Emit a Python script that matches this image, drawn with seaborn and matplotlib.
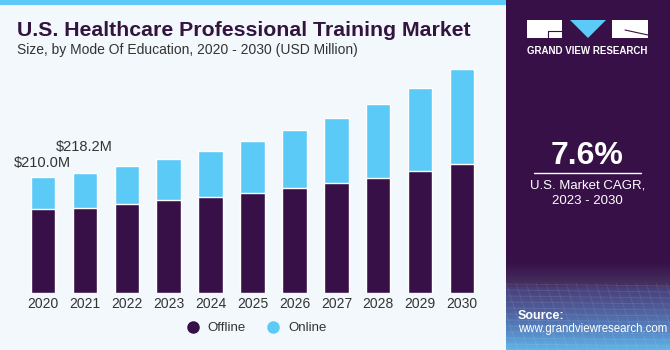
import numpy as np
import pandas as pd
import matplotlib
matplotlib.use("Agg")
import matplotlib.pyplot as plt
from matplotlib.patches import Rectangle, Polygon
from matplotlib.lines import Line2D
import seaborn as sns

# Market size by mode of education (USD million)
years = ["2020", "2021", "2022", "2023", "2024", "2025", "2026", "2027", "2028", "2029", "2030"]
offline = [152.6, 155.0, 162.2, 168.4, 174.9, 181.0, 190.6, 200.2, 209.3, 221.9, 234.6]
online = [57.4, 63.2, 68.8, 74.7, 83.2, 94.2, 104.5, 117.1, 133.4, 149.2, 170.9]
label_years = ["2020", "2021"]
label_texts = ["$210.0M", "$218.2M"]
cagr_text = "7.6%"

sns.set_theme(style="white")
plt.rcParams["font.family"] = ["Liberation Sans", "DejaVu Sans"]

BG = "#f3f8fc"
PURPLE = "#371047"
BLUE = "#5ccaf6"
TITLE_C = "#33143f"
TEXT_C = "#333333"

W, H = 670, 350
fig = plt.figure(figsize=(W / 100, H / 100), dpi=100, facecolor=BG)

df = pd.DataFrame({"year": years, "Offline": offline, "Online": online})
df["Total"] = df["Offline"] + df["Online"]

# Plot area: baseline at y=293 px, bar centres from 43 px to 462 px
UNIT = 1.81  # USD million per pixel
ax = fig.add_axes([0, 56.7 / H, 500 / W, 283.3 / H])
ax.set_facecolor(BG)
sns.barplot(data=df, x="year", y="Total", color=BLUE, width=0.58, saturation=1, ax=ax)
sns.barplot(data=df, x="year", y="Offline", color=PURPLE, width=0.58, saturation=1, ax=ax)
px = 41.94
ax.set_xlim(-42.8 / px, (500 - 42.8) / px)
ax.set_ylim(0, 283.3 * UNIT)
for s in ax.spines.values():
    s.set_visible(False)
ax.set_xlabel("")
ax.set_ylabel("")
ax.set_yticks([])
ax.tick_params(axis="x", length=0, pad=3, labelsize=10, labelcolor=TEXT_C)

# Value labels: the second one sits higher so the two do not collide
for yr, txt, lift in zip(label_years, label_texts, [14, 26]):
    i = years.index(yr)
    ax.text(i, df["Total"][i] + lift * UNIT, txt, ha="center", va="center",
            fontsize=10.5, color=TEXT_C)

# Titles
fig.text(17 / W, 1 - 30 / H, "U.S. Healthcare Professional Training Market",
         fontsize=15.3, fontweight="bold", color=TITLE_C, va="center", ha="left")
fig.text(17 / W, 1 - 50 / H, "Size, by Mode Of Education, 2020 - 2030 (USD Million)",
         fontsize=10, color=TEXT_C, va="center", ha="left")

# Top accent strip
fig.patches.append(Rectangle((0, 1 - 5 / H), 506 / W, 5 / H, transform=fig.transFigure,
                             facecolor=BLUE, edgecolor="none", zorder=5))

# Legend
handles = [Line2D([], [], marker="o", ls="", color=PURPLE, markersize=8),
           Line2D([], [], marker="o", ls="", color=BLUE, markersize=8)]
fig.legend(handles, ["Offline", "Online"], loc="center", bbox_to_anchor=(253 / W, 1 - 328 / H),
           ncol=2, frameon=False, fontsize=9.5, handletextpad=0.1, columnspacing=1.1,
           labelcolor=TEXT_C)

# Right information panel
pax = fig.add_axes([506 / W, 0, 164 / W, 1])
pax.set_xlim(0, 164)
pax.set_ylim(350, 0)
pax.axis("off")
pax.add_patch(Rectangle((0, 0), 164, 350, facecolor=PURPLE, edgecolor="none"))
grad = np.linspace(0, 1, 200)[:, None]
cmap = matplotlib.colors.LinearSegmentedColormap.from_list(
    "panel", [(0, PURPLE), (0.25, "#45305f"), (0.3, "#48407a"),
              (0.55, "#4f5f9c"), (0.8, "#5689c6"), (1.0, "#60b4e6")])
pax.imshow(grad, extent=(0, 164, 350, 262), aspect="auto", cmap=cmap,
           vmin=0, vmax=1, interpolation="bilinear", zorder=1)
for yy in np.arange(284, 352, 6):
    pax.plot([0, 164], [yy, yy + 2], color="white", alpha=0.10, lw=0.6, zorder=2)
for xx in np.arange(-40, 200, 10):
    pax.plot([xx, xx + 22], [283, 350], color="white", alpha=0.09, lw=0.6, zorder=2)
pax.set_xlim(0, 164)
pax.set_ylim(350, 0)

# Logo
pax.add_patch(Rectangle((21, 20), 35, 18, facecolor="white", edgecolor="none", zorder=3))
pax.add_patch(Rectangle((106, 20), 36, 18, facecolor="white", edgecolor="none", zorder=3))
pax.add_patch(Polygon([[64, 20], [100, 20], [82, 38]], closed=True, facecolor=BLUE,
                      edgecolor="none", zorder=3))
pax.plot([42, 56], [31, 31], color=PURPLE, lw=0.8, zorder=4)
pax.plot([42, 42], [31, 38], color=PURPLE, lw=0.8, zorder=4)
pax.plot([119, 142], [30, 35], color=PURPLE, lw=0.8, zorder=4)
pax.text(81.5, 51, "GRAND VIEW RESEARCH", color="white", fontsize=7, fontweight="bold",
         ha="center", va="center", zorder=4)

pax.text(81.5, 156, cagr_text, color="white", fontsize=23, fontweight="bold",
         ha="center", va="center", zorder=4)
pax.plot([28, 135], [173, 173], color="white", lw=1, zorder=4)
pax.text(81.5, 186, "U.S. Market CAGR,", color="white", fontsize=9.5, ha="center", va="center", zorder=4)
pax.text(81.5, 201, "2023 - 2030", color="white", fontsize=9.5, ha="center", va="center", zorder=4)
pax.text(12, 316, "Source:", color="white", fontsize=9, fontweight="bold", ha="left", va="center", zorder=4)
pax.text(12, 329, "www.grandviewresearch.com", color="white", fontsize=8.3, ha="left", va="center", zorder=4)

fig.savefig("out.png", dpi=100, facecolor=BG)
